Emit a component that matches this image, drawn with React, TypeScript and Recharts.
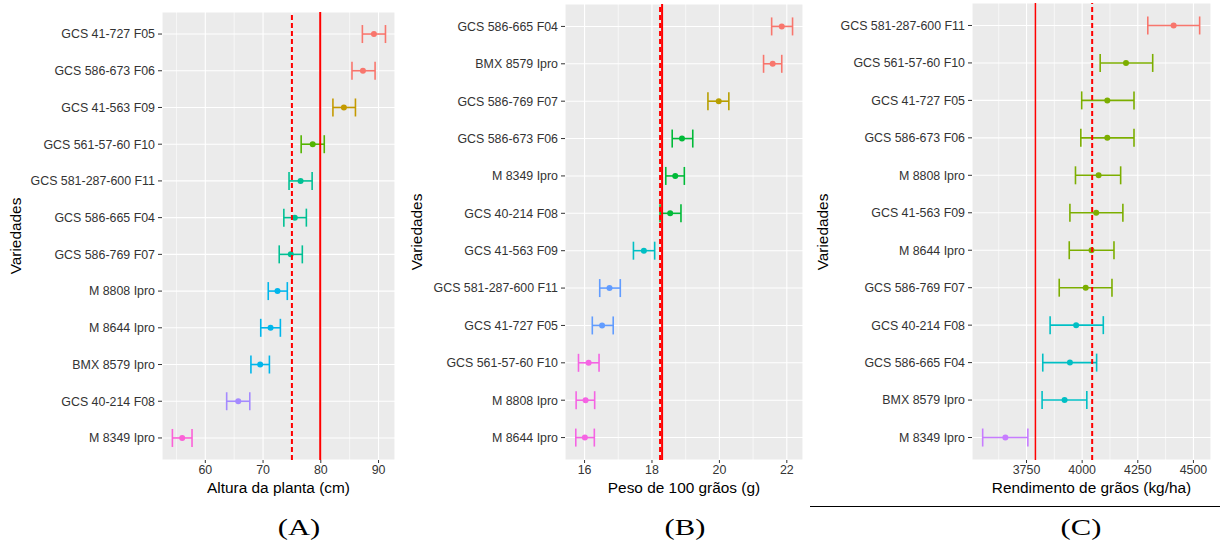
import React from "react";
import {
  ScatterChart,
  Scatter,
  XAxis,
  YAxis,
  CartesianGrid,
  ReferenceLine,
  ErrorBar,
} from "recharts";

// (A) plant height
const namesA = [
  "GCS 41-727 F05",
  "GCS 586-673 F06",
  "GCS 41-563 F09",
  "GCS 561-57-60 F10",
  "GCS 581-287-600 F11",
  "GCS 586-665 F04",
  "GCS 586-769 F07",
  "M 8808 Ipro",
  "M 8644 Ipro",
  "BMX 8579 Ipro",
  "GCS 40-214 F08",
  "M 8349 Ipro",
];
const meanA = [89.2, 87.3, 84.0, 78.6, 76.5, 75.5, 74.8, 72.5, 71.3, 69.5, 65.7, 56.0];
const lowA = [87.2, 85.4, 82.1, 76.6, 74.5, 73.6, 72.8, 70.9, 69.6, 67.9, 63.7, 54.3];
const highA = [91.2, 89.4, 86.0, 80.6, 78.5, 77.5, 76.8, 74.2, 73.0, 71.1, 67.7, 57.7];
const groupA = [0, 0, 1, 2, 3, 3, 3, 4, 4, 4, 5, 6];
const paletteA = ["#F8766D", "#C49A00", "#53B400", "#00C094", "#00B6EB", "#A58AFF", "#FB61D7"];
const ticksA = [60, 70, 80, 90];
const minorA = [55, 65, 75, 85];

// (B) 100-grain weight
const namesB = [
  "GCS 586-665 F04",
  "BMX 8579 Ipro",
  "GCS 586-769 F07",
  "GCS 586-673 F06",
  "M 8349 Ipro",
  "GCS 40-214 F08",
  "GCS 41-563 F09",
  "GCS 581-287-600 F11",
  "GCS 41-727 F05",
  "GCS 561-57-60 F10",
  "M 8808 Ipro",
  "M 8644 Ipro",
];
const meanB = [21.85, 21.58, 19.98, 18.89, 18.69, 18.54, 17.76, 16.74, 16.52, 16.12, 16.03, 16.01];
const lowB = [21.55, 21.31, 19.66, 18.6, 18.41, 18.24, 17.45, 16.45, 16.23, 15.82, 15.75, 15.74];
const highB = [22.17, 21.85, 20.28, 19.21, 18.96, 18.86, 18.08, 17.06, 16.85, 16.43, 16.3, 16.29];
const groupB = [0, 0, 1, 2, 2, 2, 3, 4, 4, 5, 5, 5];
const paletteB = ["#F8766D", "#B79F00", "#00BA38", "#00BFC4", "#619CFF", "#F564E3"];
const ticksB = [16, 18, 20, 22];
const minorB = [17, 19, 21];

// (C) grain yield
const namesC = [
  "GCS 581-287-600 F11",
  "GCS 561-57-60 F10",
  "GCS 41-727 F05",
  "GCS 586-673 F06",
  "M 8808 Ipro",
  "GCS 41-563 F09",
  "M 8644 Ipro",
  "GCS 586-769 F07",
  "GCS 40-214 F08",
  "GCS 586-665 F04",
  "BMX 8579 Ipro",
  "M 8349 Ipro",
];
const meanC = [4411, 4197, 4113, 4113, 4074, 4063, 4042, 4016, 3973, 3945, 3921, 3655];
const lowC = [4295, 4081, 3998, 3994, 3970, 3945, 3942, 3897, 3856, 3823, 3820, 3553];
const highC = [4528, 4317, 4233, 4233, 4173, 4183, 4143, 4134, 4095, 4065, 4021, 3756];
const groupC = [0, 1, 1, 1, 1, 1, 1, 1, 2, 2, 2, 3];
const paletteC = ["#F8766D", "#7CAE00", "#00BFC4", "#C77CFF"];
const ticksC = [3750, 4000, 4250, 4500];
const minorC = [3625, 3875, 4125, 4375];

const SANS = "'Liberation Sans', Arial, sans-serif";

type PanelProps = {
  names: string[];
  mean: number[];
  low: number[];
  high: number[];
  group: number[];
  palette: string[];
  ticks: number[];
  minor: number[];
  domain: [number, number];
  solid: number;
  solidWidth: number;
  dashed: number;
  xTitle: string;
  left: number;
  width: number;
  top: number;
  right: number;
  yWidth: number;
};

const Panel = (p: PanelProps) => {
  const rows = p.names.map((name, i) => ({
    pos: i,
    name,
    v: p.mean[i],
    err: [p.mean[i] - p.low[i], p.high[i] - p.mean[i]],
    g: p.group[i],
  }));
  const tickStyle = { fontSize: 12.4, fill: "#333", fontFamily: SANS };
  return (
    <div style={{ position: "absolute", left: p.left, top: 0 }}>
      <ScatterChart
        width={p.width}
        height={500}
        margin={{ top: p.top, right: p.right, left: 0, bottom: 0 }}
      >
        <CartesianGrid
          horizontal={false}
          verticalValues={p.minor}
          fill="#EBEBEB"
          fillOpacity={1}
          stroke="#FFFFFF"
          strokeWidth={0.6}
        />
        <CartesianGrid stroke="#FFFFFF" strokeWidth={1.1} />
        <XAxis
          type="number"
          dataKey="v"
          domain={p.domain}
          ticks={p.ticks}
          interval={0}
          allowDataOverflow
          axisLine={false}
          tickLine={{ stroke: "#333" }}
          tickSize={3}
          tickMargin={2}
          tick={tickStyle}
          height={40}
          label={{
            value: p.xTitle,
            position: "insideBottom",
            offset: 7,
            fontSize: 15.4,
            fill: "#000",
            fontFamily: SANS,
          }}
        />
        <YAxis
          type="number"
          dataKey="pos"
          domain={[-0.6, p.names.length - 0.4]}
          ticks={p.names.map((_, i) => i)}
          tickFormatter={(i: number) => p.names[i]}
          interval={0}
          reversed
          allowDataOverflow
          axisLine={false}
          tickLine={{ stroke: "#333" }}
          tickSize={4}
          tickMargin={3}
          tick={tickStyle}
          width={p.yWidth}
        />
        {p.palette.map((c, gi) => (
          <Scatter
            key={gi}
            data={rows.filter((r) => r.g === gi)}
            fill={c}
            isAnimationActive={false}
            shape={(s: any) => <circle cx={s.cx} cy={s.cy} r={3} fill={c} />}
          >
            <ErrorBar
              dataKey="err"
              direction="x"
              width={9}
              stroke={c}
              strokeWidth={1.6}
              isAnimationActive={false}
            />
          </Scatter>
        ))}
        <ReferenceLine x={p.solid} stroke="#FF0000" strokeWidth={p.solidWidth} zIndex={700} />
        <ReferenceLine
          x={p.dashed}
          stroke="#FF0000"
          strokeWidth={2}
          strokeDasharray="5 3"
          zIndex={700}
        />
      </ScatterChart>
    </div>
  );
};

const VLabel = ({ x, y }: { x: number; y: number }) => (
  <div
    style={{
      position: "absolute",
      left: x,
      top: y,
      transform: "translate(-50%, -50%) rotate(-90deg)",
      fontFamily: SANS,
      fontSize: 15.4,
      lineHeight: 1,
      whiteSpace: "nowrap",
      color: "#000",
    }}
  >
    Variedades
  </div>
);

const Letter = ({ x, text }: { x: number; text: string }) => (
  <div
    style={{
      position: "absolute",
      left: x,
      top: 527,
      transform: "translate(-50%, -50%) scaleX(1.33)",
      fontFamily: "'Liberation Serif', 'Times New Roman', serif",
      fontSize: 23,
      lineHeight: 1,
      whiteSpace: "nowrap",
      color: "#000",
    }}
  >
    {text}
  </div>
);

export default function App() {
  return (
    <div
      style={{
        position: "absolute",
        left: 0,
        top: 0,
        width: 1220,
        height: 542,
        background: "#fff",
        overflow: "hidden",
      }}
    >
      <Panel
        names={namesA}
        mean={meanA}
        low={lowA}
        high={highA}
        group={groupA}
        palette={paletteA}
        ticks={ticksA}
        minor={minorA}
        domain={[52.5, 92.85]}
        solid={79.9}
        solidWidth={2}
        dashed={75.0}
        xTitle="Altura da planta (cm)"
        left={0}
        width={400}
        top={12}
        right={5}
        yWidth={162}
      />
      <Panel
        names={namesB}
        mean={meanB}
        low={lowB}
        high={highB}
        group={groupB}
        palette={paletteB}
        ticks={ticksB}
        minor={minorB}
        domain={[15.42, 22.48]}
        solid={18.3}
        solidWidth={2}
        dashed={18.24}
        xTitle="Peso de 100 grãos (g)"
        left={405}
        width={400}
        top={4}
        right={2}
        yWidth={160}
      />
      <Panel
        names={namesC}
        mean={meanC}
        low={lowC}
        high={highC}
        group={groupC}
        palette={paletteC}
        ticks={ticksC}
        minor={minorC}
        domain={[3505, 4579]}
        solid={3790}
        solidWidth={1.5}
        dashed={4045}
        xTitle="Rendimento de grãos (kg/ha)"
        left={810}
        width={410}
        top={3}
        right={9}
        yWidth={162}
      />
      <VLabel x={16} y={236} />
      <VLabel x={417} y={232} />
      <VLabel x={823} y={232} />
      <Letter x={299} text="(A)" />
      <Letter x={685} text="(B)" />
      <Letter x={1081} text="(C)" />
      <div
        style={{
          position: "absolute",
          left: 810,
          top: 505.6,
          width: 410,
          height: 1.5,
          background: "#000",
        }}
      />
    </div>
  );
}
